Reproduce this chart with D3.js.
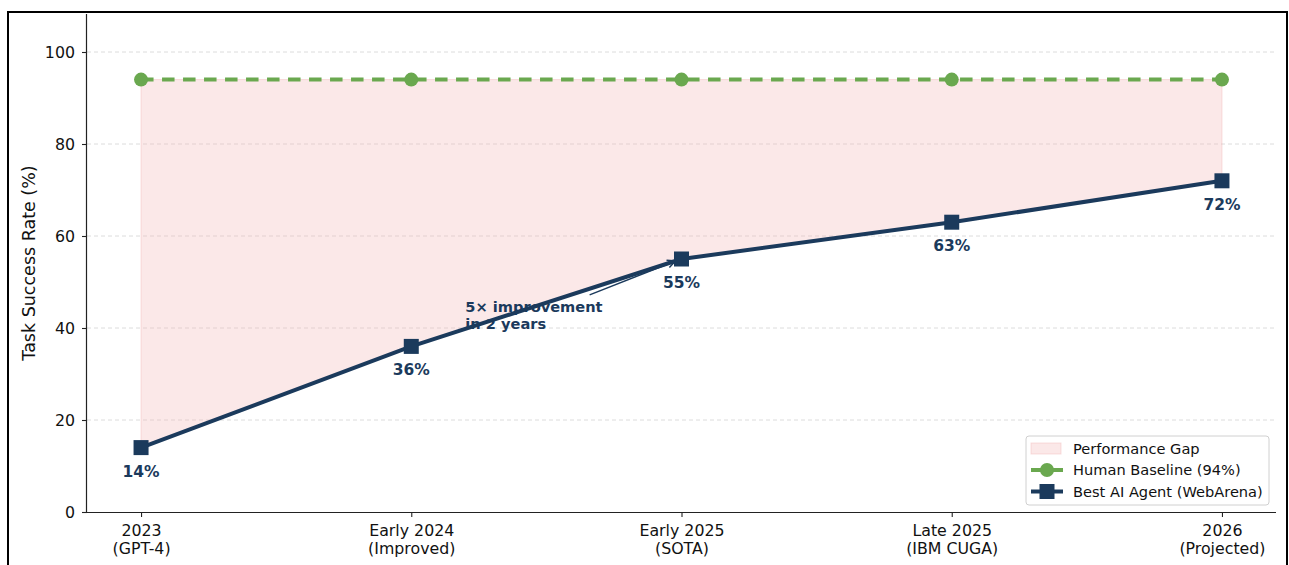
<!DOCTYPE html>
<html>
<head>
<meta charset="utf-8">
<script src="https://cdn.jsdelivr.net/npm/d3@7"></script>
<style>
  html, body { margin: 0; padding: 0; background: #fff; }
  svg { display: block; font-family: "DejaVu Sans", sans-serif; }
</style>
</head>
<body>
<svg id="chart" width="1289" height="565"></svg>
<script>
// Milestones on the x axis (two-line labels)
const stages = ["2023", "Early 2024", "Early 2025", "Late 2025", "2026"];
const stageNotes = ["(GPT-4)", "(Improved)", "(SOTA)", "(IBM CUGA)", "(Projected)"];

// Success rates (%)
const humanBaseline = [94, 94, 94, 94, 94];
const bestAgent = [14, 36, 55, 63, 72];

// Y axis ticks
const yTicks = [0, 20, 40, 60, 80, 100];

const navy = "#1b3a5c";
const green = "#6aa84f";
const gapFill = "#f2b8b8";

const svg = d3.select("#chart");

// Figure frame
svg.append("rect")
  .attr("x", 8).attr("y", 12).attr("width", 1279).attr("height", 600)
  .attr("fill", "none").attr("stroke", "#000").attr("stroke-width", 2);

const plotL = 87, plotR = 1276, plotT = 14, plotB = 512;

const x = d3.scaleLinear().domain([-0.2, 4.2]).range([plotL, plotR]);
const y = d3.scaleLinear().domain([0, 100]).range([plotB, 52]);

const idx = d3.range(stages.length);

// Horizontal grid
svg.append("g")
  .selectAll("line")
  .data(yTicks.filter(d => d > 0))
  .join("line")
  .attr("x1", plotL).attr("x2", plotR)
  .attr("y1", d => y(d)).attr("y2", d => y(d))
  .attr("stroke", "#dcdcdc").attr("stroke-width", 1)
  .attr("stroke-dasharray", "4,3");

// Performance gap band
const area = d3.area()
  .x(i => x(i))
  .y0(i => y(bestAgent[i]))
  .y1(i => y(humanBaseline[i]));
svg.append("path")
  .datum(idx)
  .attr("d", area)
  .attr("fill", gapFill).attr("fill-opacity", 0.32)
  .attr("stroke", gapFill).attr("stroke-opacity", 0.45).attr("stroke-width", 1);

// Axes
const yAxis = d3.axisLeft(y).tickValues(yTicks).tickSize(5).tickPadding(7);
const gy = svg.append("g").attr("transform", `translate(${plotL},0)`).call(yAxis);
gy.select(".domain").attr("d", `M-0.5,${plotT}V${plotB}`);

const xAxis = d3.axisBottom(x).tickValues(idx).tickSize(5).tickFormat(() => "");
const gx = svg.append("g").attr("transform", `translate(0,${plotB})`).call(xAxis);
gx.select(".domain").attr("d", `M${plotL},0.5H${plotR}`);

[gx, gy].forEach(g => {
  g.select(".domain").attr("stroke", "#222").attr("stroke-width", 1.2);
  g.selectAll(".tick line").attr("stroke", "#222").attr("stroke-width", 1.1);
});
gy.selectAll(".tick text")
  .attr("font-family", "DejaVu Sans").attr("font-size", 15.8).attr("fill", "#111");

// Two-line x labels
const xl = gx.selectAll(".tick text")
  .attr("font-family", "DejaVu Sans").attr("font-size", 15.8).attr("fill", "#111")
  .attr("y", 0).attr("dy", null);
xl.each(function(i) {
  const t = d3.select(this);
  t.append("tspan").attr("x", 0).attr("y", 23.5).text(stages[i]);
  t.append("tspan").attr("x", 0).attr("y", 41.5).text(stageNotes[i]);
});

// Y label
svg.append("text")
  .attr("transform", `translate(35,${(plotT + plotB) / 2}) rotate(-90)`)
  .attr("text-anchor", "middle")
  .attr("font-size", 17.5).attr("fill", "#111")
  .text("Task Success Rate (%)");

// Annotation for the 2023 -> 2025 jump
const noteX = x(1.2), noteY = y(43.5);
const note = svg.append("text")
  .attr("x", noteX).attr("y", noteY)
  .attr("font-size", 14.6).attr("font-weight", "bold").attr("fill", navy);
note.append("tspan").attr("x", noteX).attr("dy", 0).text("5\u00d7 improvement");
note.append("tspan").attr("x", noteX).attr("dy", 17).text("in 2 years");

// Arrow to the 2025 point
const ax0 = x(1.66), ay0 = y(47.2);
const ax1 = x(2) - 6, ay1 = y(55) + 2;
svg.append("line")
  .attr("x1", ax0).attr("y1", ay0).attr("x2", ax1).attr("y2", ay1)
  .attr("stroke", navy).attr("stroke-width", 1.5);
const ang = Math.atan2(ay1 - ay0, ax1 - ax0);
const head = 9;
svg.append("path")
  .attr("d", `M${ax1 - head * Math.cos(ang - 0.45)},${ay1 - head * Math.sin(ang - 0.45)}L${ax1},${ay1}L${ax1 - head * Math.cos(ang + 0.45)},${ay1 - head * Math.sin(ang + 0.45)}`)
  .attr("fill", "none").attr("stroke", navy).attr("stroke-width", 1.5);

// Human baseline
const line = vals => d3.line().x(i => x(i)).y(i => y(vals[i]));
svg.append("path")
  .datum(idx)
  .attr("d", line(humanBaseline))
  .attr("fill", "none").attr("stroke", green).attr("stroke-width", 4)
  .attr("stroke-dasharray", "12.5,8.5");
svg.append("g").selectAll("circle")
  .data(idx).join("circle")
  .attr("cx", i => x(i)).attr("cy", i => y(humanBaseline[i]))
  .attr("r", 7).attr("fill", green);

// Best agent
svg.append("path")
  .datum(idx)
  .attr("d", line(bestAgent))
  .attr("fill", "none").attr("stroke", navy).attr("stroke-width", 4)
  .attr("stroke-linejoin", "round");
svg.append("g").selectAll("rect")
  .data(idx).join("rect")
  .attr("x", i => x(i) - 7.5).attr("y", i => y(bestAgent[i]) - 7.5)
  .attr("width", 15).attr("height", 15).attr("fill", navy);

// Value labels
svg.append("g").selectAll("text")
  .data(idx).join("text")
  .attr("x", i => x(i)).attr("y", i => y(bestAgent[i]) + 29)
  .attr("text-anchor", "middle")
  .attr("font-size", 15.5).attr("font-weight", "bold").attr("fill", navy)
  .text(i => bestAgent[i] + "%");

// Legend
const lg = svg.append("g").attr("transform", "translate(1026,436)");
lg.append("rect")
  .attr("x", 0).attr("y", 0).attr("width", 243).attr("height", 69).attr("rx", 3)
  .attr("fill", "#fff").attr("fill-opacity", 0.85)
  .attr("stroke", "#d0d0d0").attr("stroke-width", 1);
const rows = [
  { label: "Performance Gap", kind: "patch" },
  { label: "Human Baseline (94%)", kind: "human" },
  { label: "Best AI Agent (WebArena)", kind: "agent" }
];
rows.forEach((r, k) => {
  const cy = 12.5 + k * 21.5;
  const g = lg.append("g");
  if (r.kind === "patch") {
    g.append("rect").attr("x", 5).attr("y", cy - 5.5).attr("width", 30).attr("height", 11)
      .attr("fill", gapFill).attr("fill-opacity", 0.32)
      .attr("stroke", gapFill).attr("stroke-opacity", 0.45);
  } else if (r.kind === "human") {
    g.append("line").attr("x1", 5).attr("x2", 37).attr("y1", cy).attr("y2", cy)
      .attr("stroke", green).attr("stroke-width", 4).attr("stroke-dasharray", "12.5,8.5");
    g.append("circle").attr("cx", 21).attr("cy", cy).attr("r", 7).attr("fill", green);
  } else {
    g.append("line").attr("x1", 5).attr("x2", 37).attr("y1", cy).attr("y2", cy)
      .attr("stroke", navy).attr("stroke-width", 4);
    g.append("rect").attr("x", 13.5).attr("y", cy - 7.5).attr("width", 15).attr("height", 15)
      .attr("fill", navy);
  }
  g.append("text").attr("x", 47).attr("y", cy).attr("dy", "0.35em")
    .attr("font-size", 14.6).attr("fill", "#111").text(r.label);
});
</script>
</body>
</html>
